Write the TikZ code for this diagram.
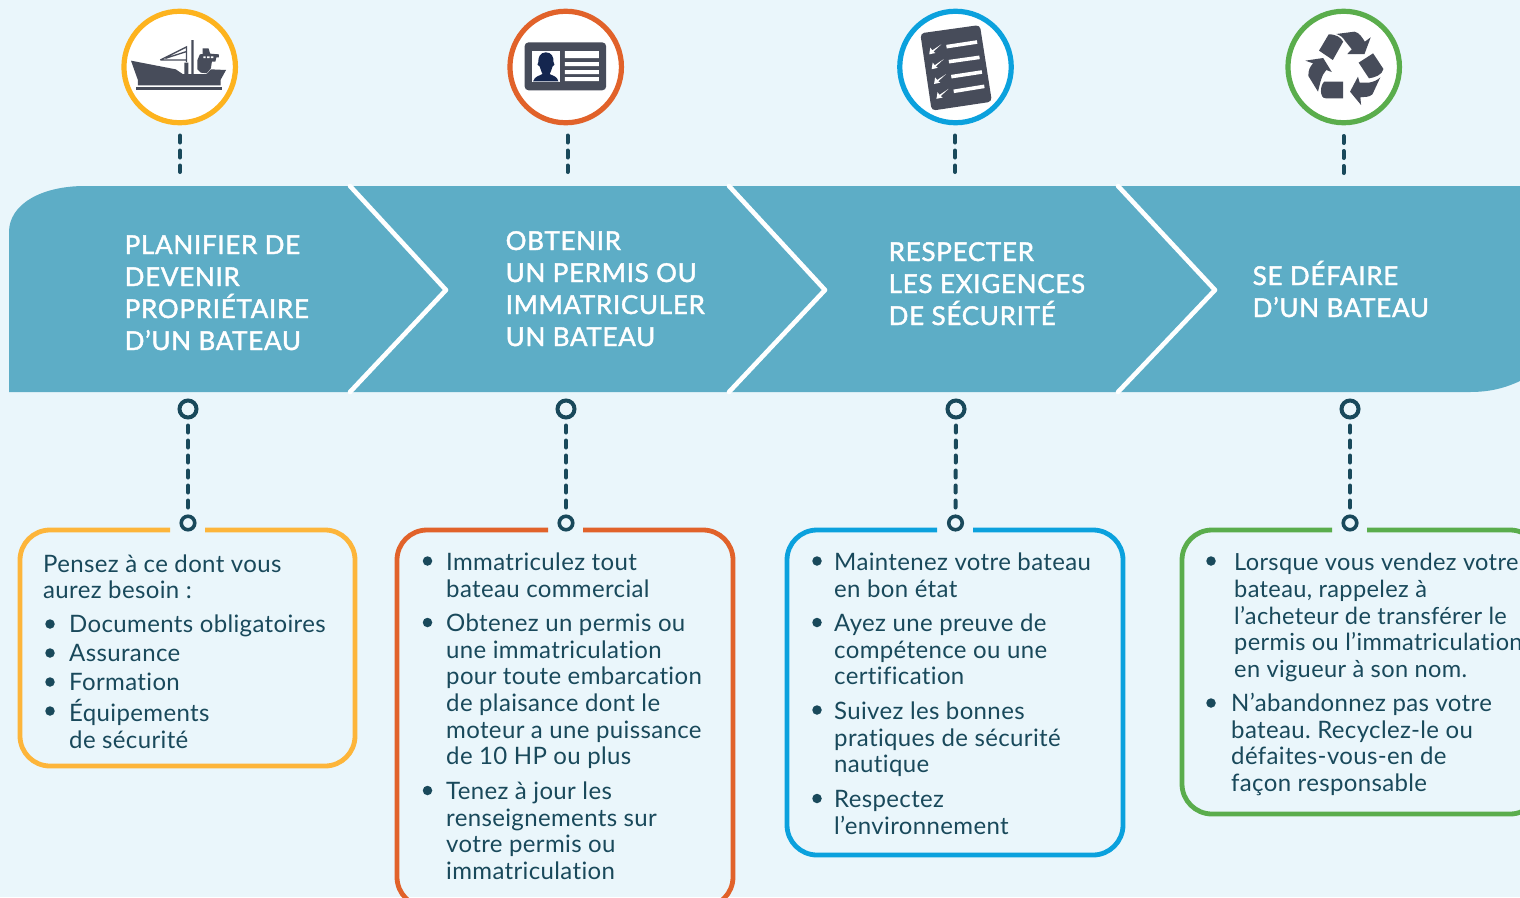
\documentclass[tikz,border=0pt]{standalone}
\usepackage{fontspec}
\setmainfont[LetterSpace=1.5,Ligatures=NoCommon]{Lato}
\newfontfamily\headfont[FakeBold=1.6,LetterSpace=2.7,Ligatures=NoCommon]{Lato}
\frenchspacing
\definecolor{bgc}{HTML}{EAF6FB}
\definecolor{ribbon}{HTML}{5DADC6}
\definecolor{cyellow}{HTML}{FDB53A}
\definecolor{ringyellow}{HTML}{FDB31E}
\definecolor{corange}{HTML}{E1622A}
\definecolor{cblue}{HTML}{0BA1DD}
\definecolor{cgreen}{HTML}{5AAD4C}
\definecolor{teal0}{HTML}{19495B}
\definecolor{icong}{HTML}{474C5A}
\definecolor{navy0}{HTML}{14264F}
\tikzset{
  x=1pt,y=-1pt,
  iconring/.style={circle,draw=#1,fill=white,line width=5.2pt,minimum size=111.5pt,inner sep=0pt},
  dotbig/.style={circle,draw=teal0,fill=bgc,line width=4pt,minimum size=17pt,inner sep=0pt},
  dotsmall/.style={circle,draw=teal0,fill=bgc,line width=3.6pt,minimum size=13.5pt,inner sep=0pt},
  dashline/.style={draw=teal0,line width=4pt,line cap=round,dash pattern=on 7pt off 8pt},
  chevron/.style={draw=white,line width=4.6pt,line cap=round,line join=round},
  infobox/.style={draw=#1,line width=4.8pt,rounded corners=30pt},
  headtext/.style={text=white,anchor=base west,align=left,inner sep=0pt,font=\headfont\fontsize{26}{32}\selectfont},
  bodytext/.style={text=teal0,anchor=base west,align=left,inner sep=0pt,yshift=-0.7pt,font=\fontsize{24}{26.6}\selectfont},
  bodytight/.style={bodytext,font=\fontsize{23.6}{26.6}\selectfont},
  bull/.style={circle,fill=teal0,minimum size=9.5pt,inner sep=0pt},
  zoomA/.style={shift={(100,0)},xscale=1/2.904,yscale=1/3},
  zoomB/.style={shift={(880,0)},xscale=1/2.904,yscale=1/3},
}
\begin{document}
\begin{tikzpicture}
\clip (0,0) rectangle (1520,897);
\fill[bgc] (0,0) rectangle (1520,897);
% ribbon
\fill[ribbon] (9,392) -- (9,232) .. controls (9,205) and (40,186) .. (85,186) -- (1520,186) -- (1520,381) .. controls (1505,388) and (1490,392) .. (1470,392) -- cycle;
\draw[chevron] (350,186) -- (446,290) -- (350,392);
\draw[chevron] (729,186) -- (825,290) -- (729,392);
\draw[chevron] (1118,186) -- (1215,290) -- (1118,392);
% icon rings
\node[iconring=ringyellow] (ic1) at (179.7,67) {};
\node[iconring=corange] (ic2) at (565.7,67) {};
\node[iconring=cblue] (ic3) at (955.5,67) {};
\node[iconring=cgreen] (ic4) at (1343.7,67) {};
% ship
\begin{scope}[zoomA]
\fill[icong] (90,182) -- (220,208) -- (240,222) -- (245,222) -- (245,188) -- (257,188) -- (257,222) -- (265,222) -- (265,120) -- (272,120) -- (272,222) -- (310,222) -- (322,208) -- (366,210) -- (350,240) -- (350,256) -- (110,256) -- (110,240) -- cycle;
\fill[icong] (104,260) rectangle (354,270);
\fill[icong] (283,180) -- (290,163) -- (298,162) -- (298,145) -- (315,145) -- (320,161) -- (345,163) -- (345,172) -- (338,172) -- (335,185) -- (325,185) -- (322,205) -- (310,220) -- (293,218) -- (283,208) -- cycle;
\fill[white] (300,169) rectangle (307,174) (311,169) rectangle (318,174) (322,169) rectangle (329,174);
\draw[icong,line width=1.3pt] (175,180) -- (251,141) -- (251,186) (175,180) -- (250,180) (190,175) -- (250,155);
\end{scope}
% ID card
\begin{scope}[zoomA]
\fill[icong,rounded corners=4pt] (1233,127) rectangle (1470,271);
\fill[white!95!bgc] (1254,153) rectangle (1336,246);
\fill[navy0] (1295,157) .. controls (1312,157) and (1318,172) .. (1317,186) .. controls (1322,190) and (1320,198) .. (1314,200) .. controls (1312,210) and (1308,216) .. (1306,222) .. controls (1315,228) and (1328,228) .. (1331,244) -- (1258,244) .. controls (1262,228) and (1276,228) .. (1285,222) .. controls (1283,216) and (1279,210) .. (1277,200) .. controls (1270,198) and (1268,190) .. (1273,186) .. controls (1272,172) and (1278,157) .. (1295,157) -- cycle;
\fill[white] (1350,153) rectangle (1449,174) (1350,186) rectangle (1449,198) (1350,210) rectangle (1449,222) (1350,231) rectangle (1449,243);
\end{scope}
% checklist
\begin{scope}[zoomB]
\fill[icong,rounded corners=4pt] (117,100) -- (290,75) -- (325,305) -- (150,332) -- cycle;
\draw[white,line width=3.6pt] (193,140) -- (282,126) (200,185) -- (289,172) (207,230) -- (296,216) (214,274) -- (303,259);
\foreach \k in {0,1,2,3}{
\fill[white,shift={(7*\k,44.5*\k)}] (143,163) -- (146,143) -- (152,151) -- (178,133) -- (155,155) -- (161,159) -- cycle;
}
% recycle
\fill[icong] (1275,152) -- (1303,103) .. controls (1325,103) and (1338,112) .. (1345,125) -- (1315,180) -- cycle;
\fill[icong] (1325,102) -- (1378,95) .. controls (1392,98) and (1400,112) .. (1408,125) -- (1425,112) -- (1407,162) -- (1357,162) -- (1370,148) -- (1350,122) .. controls (1345,112) and (1335,105) .. (1325,102) -- cycle;
\fill[icong] (1390,188) -- (1432,160) -- (1462,207) .. controls (1458,225) and (1438,232) .. (1420,235) -- cycle;
\fill[icong] (1453,232) -- (1430,283) .. controls (1420,293) and (1405,290) .. (1395,292) -- (1397,315) -- (1365,275) -- (1388,230) -- (1393,248) -- (1420,248) .. controls (1435,245) and (1445,240) .. (1453,232) -- cycle;
\fill[icong] (1345,245) -- (1345,295) -- (1295,295) .. controls (1275,295) and (1278,255) .. (1290,245) -- cycle;
\fill[icong] (1235,182) -- (1287,174) -- (1312,216) -- (1296,210) .. controls (1282,225) and (1278,250) .. (1272,275) -- (1244,228) .. controls (1243,210) and (1250,198) .. (1258,190) -- cycle;
\end{scope}
% top dashes
\coordinate (t1a) at (180,135.5); \coordinate (t1b) at (180,172);
\coordinate (t2a) at (567.5,135.5); \coordinate (t2b) at (567.5,172);
\coordinate (t3a) at (955,135.5); \coordinate (t3b) at (955,172);
\coordinate (t4a) at (1343.5,136); \coordinate (t4b) at (1343.5,173);
\foreach \i in {1,2,3,4}{\draw[dashline] (t\i a) -- (t\i b);}
% boxes
\draw[infobox=cyellow] (205,530) -- (355,530) -- (355,766) -- (20,766) -- (20,530) -- (170,530);
\draw[infobox=corange] (583,530) -- (733,530) -- (733,907) -- (397,907) -- (397,530) -- (548,530);
\draw[infobox=cblue] (973,530) -- (1123,530) -- (1123,855) -- (787,855) -- (787,530) -- (937,530);
\draw[infobox=cgreen] (1367,530) -- (1540,530) -- (1540,814) -- (1182,814) -- (1182,530) -- (1332,530);
% dots
\node[dotbig] (a1) at (188,409) {};
\node[dotbig] (a2) at (566,409) {};
\node[dotbig] (a3) at (956,409) {};
\node[dotbig] (a4) at (1350,409) {};
\node[dotsmall] (b1) at (188,523) {};
\node[dotsmall] (b2) at (566,523) {};
\node[dotsmall] (b3) at (955.5,523) {};
\node[dotsmall] (b4) at (1350,523) {};
\foreach \i in {1,2,3,4}{\draw[dashline,shorten <=6pt,shorten >=6.5pt] (a\i.south) -- (b\i.north);}
% headings (coordinates give the last baseline)
\node[headtext] (h1) at (124.5,350) {PLANIFIER DE\\DEVENIR\\PROPRIÉTAIRE\\D’UN BATEAU};
\node[headtext] (h2) at (505.5,346) {OBTENIR\\UN PERMIS OU\\IMMATRICULER\\UN BATEAU};
\node[headtext] (h3) at (888.5,325) {RESPECTER\\LES EXIGENCES\\DE SÉCURITÉ};
\node[headtext] (h4) at (1252.5,317) {SE DÉFAIRE\\D’UN BATEAU};
% yellow
\node[bodytext] (y0) at (43,598) {Pensez à ce dont vous\\aurez besoin :};
\node[bodytext] (y1) at (69,632) {Documents obligatoires};
\node[bodytext] (y2) at (69,661) {Assurance};
\node[bodytext] (y3) at (69,690) {Formation};
\node[bodytext] (y4) at (69,747.5) {Équipements\\de sécurité};
\node[bull] (by1) at (50,624) {};
\node[bull] (by2) at (50,653) {};
\node[bull] (by3) at (50,682) {};
\node[bull] (by4) at (50,711) {};
% orange
\node[bodytext] (o1) at (446,596.5) {Immatriculez tout\\bateau commercial};
\node[bodytext] (o2) at (446,764) {Obtenez un permis ou\\une immatriculation\\pour toute embarcation\\de plaisance dont le\\moteur a une puissance\\de 10 HP ou plus};
\node[bodytext] (o3) at (446,878.5) {Tenez à jour les\\renseignements sur\\votre permis ou\\immatriculation};
\node[bull] (bo1) at (427.5,561) {};
\node[bull] (bo2) at (427.5,622.5) {};
\node[bull] (bo3) at (427.5,790.5) {};
% blue
\node[bodytext] (c1) at (834,596.5) {Maintenez votre bateau\\en bon état};
\node[bodytext] (c2) at (834,684) {Ayez une preuve de\\compétence ou une\\certification};
\node[bodytext] (c3) at (834,772) {Suivez les bonnes\\pratiques de sécurité\\nautique};
\node[bodytext] (c4) at (834,833.5) {Respectez\\l’environnement};
\node[bull] (bc1) at (817,561) {};
\node[bull] (bc2) at (817,622.5) {};
\node[bull] (bc3) at (817,710) {};
\node[bull] (bc4) at (817,798.5) {};
% green
\node[bodytight] (g1) at (1234,676.5) {Lorsque vous vendez votre\\bateau, rappelez à\\l’acheteur de transférer le\\permis ou l’immatriculation\\en vigueur à son nom.};
\node[bodytext] (g2) at (1231,790.5) {N’abandonnez pas votre\\bateau. Recyclez-le ou\\défaites-vous-en de\\façon responsable};
\node[bull] (bg1) at (1211,561) {};
\node[bull] (bg2) at (1211,703) {};
\end{tikzpicture}
\end{document}
